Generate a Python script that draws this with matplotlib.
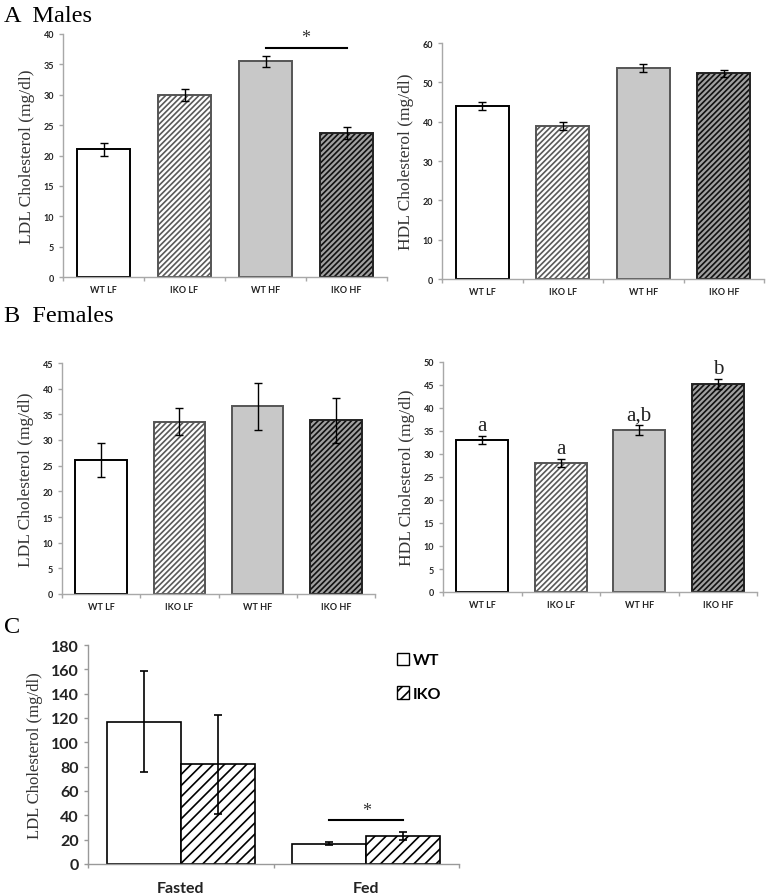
import matplotlib
matplotlib.use("Agg")
import matplotlib.pyplot as plt
from matplotlib.patches import Patch
import numpy as np

# ---- data ----
groups = ["WT LF", "IKO LF", "WT HF", "IKO HF"]
male_ldl = [21.0, 30.0, 35.5, 23.7]
male_ldl_err = [1.0, 1.0, 0.9, 1.0]
male_hdl = [44.0, 39.0, 53.7, 52.3]
male_hdl_err = [1.0, 1.0, 1.0, 0.9]
female_ldl = [26.1, 33.6, 36.6, 33.8]
female_ldl_err = [3.4, 2.7, 4.6, 4.3]
female_hdl = [33.0, 28.0, 35.2, 45.2]
female_hdl_err = [0.9, 0.9, 1.0, 1.0]
female_hdl_letters = ["a", "a", "a,b", "b"]
conditions = ["Fasted", "Fed"]
c_wt = [117.0, 16.5]
c_wt_err = [41.5, 1.2]
c_iko = [82.0, 23.0]
c_iko_err = [40.5, 3.5]

TICKFONT = "Lato"
SERIF = "Liberation Serif"

plt.rcParams["hatch.linewidth"] = 1.2

fig = plt.figure(figsize=(7.7, 8.95), dpi=100)
W, H = 770, 895

def add_ax(x0, y0, x1, y1):
    return fig.add_axes([x0 / W, 1 - y1 / H, (x1 - x0) / W, (y1 - y0) / H])

# styles for the four groups: face, hatch, hatch color, edge color
styles = [
    ("white", None, None, "black"),
    ("white", "//////", "#5a5a5a", "#555555"),
    ("#c8c8c8", None, None, "#555555"),
    ("#a0a0a0", "//////", "#111111", "#222222"),
]

def style_axes(ax, ylim, ystep, ylabel, spine_col="#a8a8a8"):
    ax.set_ylim(0, ylim)
    ax.set_yticks(np.arange(0, ylim + 0.1, ystep))
    for s in ["top", "right"]:
        ax.spines[s].set_visible(False)
    for s in ["left", "bottom"]:
        ax.spines[s].set_color(spine_col)
        ax.spines[s].set_linewidth(1.0)
    ax.tick_params(axis="both", which="major", color=spine_col, length=3, width=1)
    ax.set_ylabel(ylabel, family=SERIF, fontsize=12.5, color="#333333", labelpad=6)

def four_bar_panel(ax, vals, errs, ylim, ystep, ylabel):
    x = np.arange(len(groups))
    width = 0.66
    for i, (face, hatch, hcol, ecol) in enumerate(styles):
        if hatch:
            ax.bar(x[i], vals[i], width, color=face, hatch=hatch, edgecolor=hcol, linewidth=0)
        else:
            ax.bar(x[i], vals[i], width, color=face, linewidth=0)
        ax.bar(x[i], vals[i], width, fill=False, edgecolor=ecol, linewidth=1.4)
    ax.errorbar(x, vals, yerr=errs, fmt="none", ecolor="black", elinewidth=1, capsize=3, capthick=1)
    ax.set_xlim(-0.5, len(groups) - 0.5)
    ax.set_xticks(np.arange(-0.5, len(groups), 1.0))
    ax.set_xticklabels([])
    ax.set_xticks(x, minor=True)
    ax.set_xticklabels(groups, minor=True)
    ax.tick_params(axis="x", which="minor", length=0, pad=6)
    style_axes(ax, ylim, ystep, ylabel)
    for lab in ax.get_xticklabels(minor=True) + ax.get_yticklabels():
        lab.set_family(TICKFONT)
        lab.set_fontsize(6.5)
        lab.set_fontweight("bold")
        lab.set_color("#222222")

# ---- Panel A ----
axA1 = add_ax(63, 35, 387, 278)
four_bar_panel(axA1, male_ldl, male_ldl_err, 40, 5, "LDL Cholesterol (mg/dl)")
axA1.plot([2, 3], [37.7, 37.7], color="black", lw=1.5)
axA1.text(2.5, 38.1, "*", ha="center", va="bottom", family=SERIF, fontsize=13, color="#333333")

axA2 = add_ax(442, 44, 764, 280)
four_bar_panel(axA2, male_hdl, male_hdl_err, 60, 10, "HDL Cholesterol (mg/dl)")

# ---- Panel B ----
axB1 = add_ax(62, 364, 375, 595)
four_bar_panel(axB1, female_ldl, female_ldl_err, 45, 5, "LDL Cholesterol (mg/dl)")

axB2 = add_ax(443, 363, 757, 593)
four_bar_panel(axB2, female_hdl, female_hdl_err, 50, 5, "HDL Cholesterol (mg/dl)")
for i, lab in enumerate(female_hdl_letters):
    axB2.text(i, female_hdl[i] + female_hdl_err[i] + 0.3, lab, ha="center", va="bottom",
              family=SERIF, fontsize=15, color="#222222")

# ---- Panel C ----
axC = add_ax(88, 646, 459, 865)
xc = np.arange(len(conditions))
bw = 0.4
axC.bar(xc - bw / 2, c_wt, bw, color="white", edgecolor="black", linewidth=1.2, label="WT")
axC.bar(xc + bw / 2, c_iko, bw, color="white", hatch="///", edgecolor="black", linewidth=1.2, label="IKO")
axC.errorbar(xc - bw / 2, c_wt, yerr=c_wt_err, fmt="none", ecolor="black", elinewidth=1.2, capsize=3, capthick=1.2)
axC.errorbar(xc + bw / 2, c_iko, yerr=c_iko_err, fmt="none", ecolor="black", elinewidth=1.2, capsize=3, capthick=1.2)
axC.set_xlim(-0.5, len(conditions) - 0.5)
axC.set_xticks(np.arange(-0.5, len(conditions), 1.0))
axC.set_xticklabels([])
axC.set_xticks(xc, minor=True)
axC.set_xticklabels(conditions, minor=True)
axC.tick_params(axis="x", which="minor", length=0, pad=12)
style_axes(axC, 180, 20, "LDL Cholesterol (mg/dl)", spine_col="#999999")
axC.yaxis.label.set_fontsize(12)
for lab in axC.get_xticklabels(minor=True) + axC.get_yticklabels():
    lab.set_family(TICKFONT)
    lab.set_fontsize(11.5)
    lab.set_fontweight("bold")
    lab.set_color("#222222")
axC.plot([1 - bw / 2, 1 + bw / 2], [36, 36], color="black", lw=1.5)
axC.text(1.0, 37, "*", ha="center", va="bottom", family=SERIF, fontsize=13, color="#333333")
leg = axC.legend(handles=[Patch(facecolor="white", edgecolor="black", label="WT"),
                          Patch(facecolor="white", edgecolor="black", hatch="///", label="IKO")],
                 loc="upper left", bbox_to_anchor=(0.832, 0.965), frameon=False,
                 borderaxespad=0, borderpad=0,
                 handlelength=0.8, handleheight=0.8, handletextpad=0.2, labelspacing=1.2,
                 prop={"family": TICKFONT, "size": 11.5, "weight": "bold"})

# ---- panel titles ----
fig.text(4 / W, 1 - 22 / H, "A  Males", family=SERIF, fontsize=17.5, va="baseline", ha="left")
fig.text(4 / W, 1 - 322 / H, "B  Females", family=SERIF, fontsize=17.5, va="baseline", ha="left")
fig.text(4 / W, 1 - 633 / H, "C", family=SERIF, fontsize=17.5, va="baseline", ha="left")

fig.savefig("out.png", dpi=100)
